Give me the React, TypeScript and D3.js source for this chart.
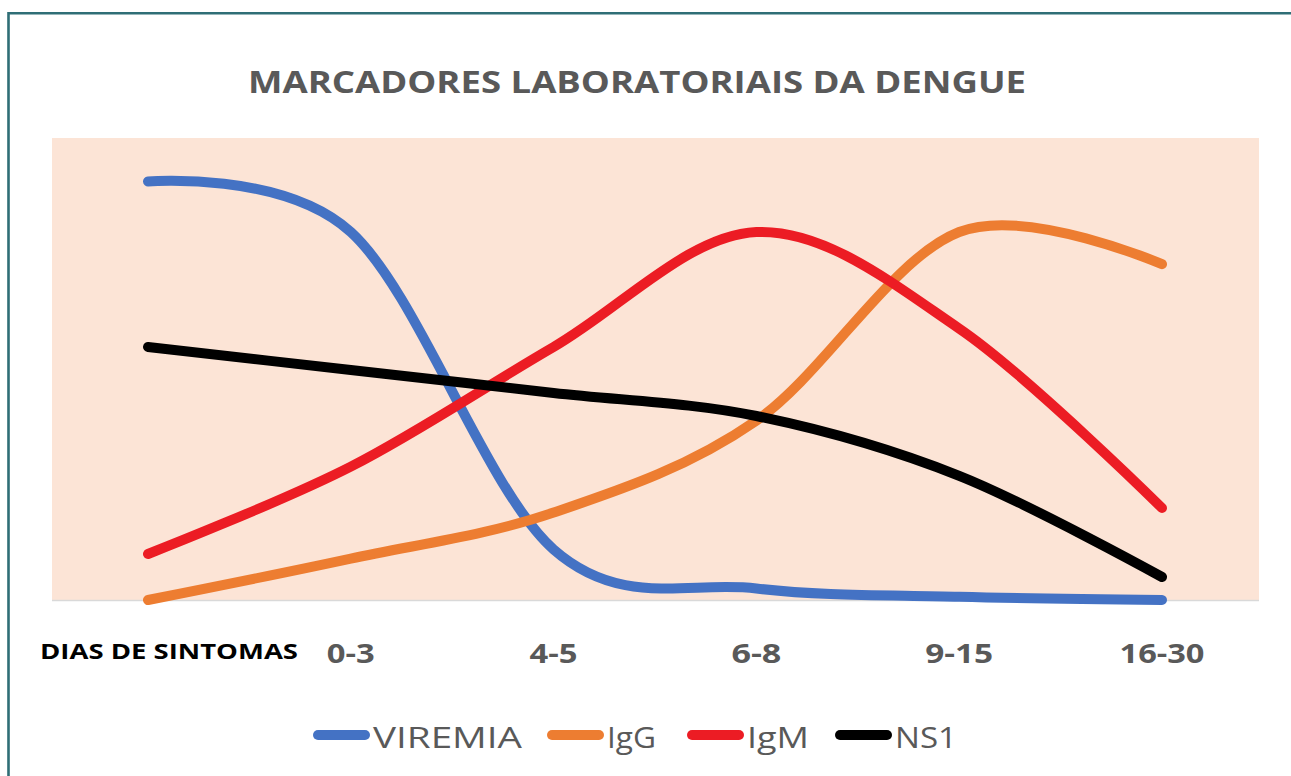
import React, {useEffect, useRef} from 'react';
import * as d3 from 'd3';

const categories = ['DIAS DE SINTOMAS', '0-3', '4-5', '6-8', '9-15', '16-30'];
const viremia = [91, 80, 11, 2.5, 0.7, 0];
const igg = [0, 9, 19, 39, 80, 73];
const igm = [10, 29, 55, 80, 59, 20];
const ns1 = [55, 50, 45, 40, 27, 5];

const seriesNames = ['VIREMIA', 'IgG', 'IgM', 'NS1'];
const seriesColors = ['#4472c4', '#ed7d31', '#ec1c24', '#000000'];

const App = () => {
    const chart = useRef<SVGSVGElement>(null);

    useEffect(() => {
        const width = 1291;
        const height = 776;
        const plot = {left: 52, right: 1259, top: 138, bottom: 600};

        const svg = d3.select(chart.current);
        svg.selectAll('*').remove();
        svg.attr('width', width).attr('height', height);

        svg.append('rect')
            .attr('width', width).attr('height', height)
            .attr('fill', '#ffffff');

        // frame: only top and left edges show in the crop
        svg.append('path')
            .attr('d', `M8.5,${height} L8.5,13.3 L${width},13.3`)
            .attr('fill', 'none')
            .attr('stroke', '#2f6e76')
            .attr('stroke-width', 2.6);

        svg.append('text')
            .attr('x', 637).attr('y', 93)
            .attr('text-anchor', 'middle')
            .attr('font-family', 'Open Sans, sans-serif')
            .attr('font-weight', 700)
            .attr('font-size', 30)
            .attr('fill', '#595959')
            .attr('textLength', 778)
            .attr('lengthAdjust', 'spacingAndGlyphs')
            .text('MARCADORES LABORATORIAIS DA DENGUE');

        // plot area
        svg.append('rect')
            .attr('x', plot.left).attr('y', plot.top)
            .attr('width', plot.right - plot.left)
            .attr('height', plot.bottom - plot.top)
            .attr('fill', '#fce4d6');

        const x = d3.scalePoint<string>().domain(categories).range([148, 1162]);
        const y = d3.scaleLinear().domain([0, 100]).range([plot.bottom, 140]);

        svg.append('line')
            .attr('x1', plot.left).attr('x2', plot.right)
            .attr('y1', y(0) + 0.5).attr('y2', y(0) + 0.5)
            .attr('stroke', '#d9d9d9')
            .attr('stroke-width', 1.5);

        const all = [viremia, igg, igm, ns1];
        const line = d3.line<number>()
            .x((d, i) => x(categories[i]) as number)
            .y(d => y(d))
            .curve(d3.curveCardinal.tension(0));

        all.forEach((s, i) => {
            svg.append('path')
                .attr('d', line(s))
                .attr('fill', 'none')
                .attr('stroke', seriesColors[i])
                .attr('stroke-width', 10)
                .attr('stroke-linecap', 'round')
                .attr('stroke-linejoin', 'round');
        });

        // category labels
        const labelWidths = [258, 48, 48, 50, 68, 85];
        categories.forEach((c, i) => {
            const t = svg.append('text')
                .attr('font-family', 'Open Sans, sans-serif')
                .attr('font-weight', 700)
                .attr('textLength', labelWidths[i])
                .attr('lengthAdjust', 'spacingAndGlyphs')
                .text(c);
            if (i === 0) {
                t.attr('x', 298).attr('y', 659)
                    .attr('text-anchor', 'end')
                    .attr('font-size', 21)
                    .attr('fill', '#000000');
            } else {
                t.attr('x', x(c) as number).attr('y', 663)
                    .attr('text-anchor', 'middle')
                    .attr('font-size', 27)
                    .attr('fill', '#595959');
            }
        });

        // legend
        const legendX = [313, 547, 687, 835];
        const legendW = [149, 49, 62, 62];
        seriesNames.forEach((name, i) => {
            const g = svg.append('g').attr('transform', `translate(${legendX[i]},735)`);
            g.append('line')
                .attr('x1', 5).attr('x2', 52)
                .attr('stroke', seriesColors[i])
                .attr('stroke-width', 10)
                .attr('stroke-linecap', 'round');
            g.append('text')
                .attr('x', 60).attr('y', 13)
                .attr('font-family', 'Open Sans, sans-serif')
                .attr('font-size', 30)
                .attr('fill', '#595959')
                .attr('textLength', legendW[i])
                .attr('lengthAdjust', 'spacingAndGlyphs')
                .text(name);
        });
    }, []);

    return (
        <svg ref={chart} style={{position: 'absolute', left: 0, top: 0}}/>
    );
};

export default App;
